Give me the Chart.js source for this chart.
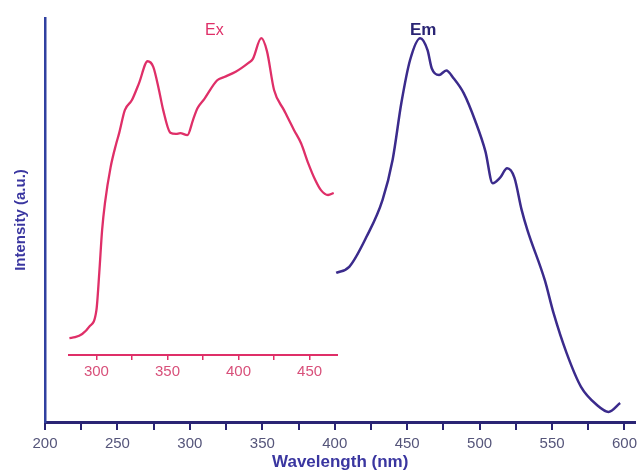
<!DOCTYPE html>
<html>
<head>
<meta charset="utf-8">
<title>Ex / Em spectra</title>
<script src="https://cdn.jsdelivr.net/npm/chart.js@4/dist/chart.umd.min.js"></script>
<style>
  body { margin: 0; background: #fff; }
  #wrap { position: relative; width: 642px; height: 474px; }
  #mainChart { position: absolute; left: 0; top: 0; }
  #insetChart { position: absolute; left: 68px; top: 0; }
</style>
</head>
<body>
<div id="wrap">
  <canvas id="mainChart" width="642" height="474"></canvas>
  <canvas id="insetChart" width="270" height="385"></canvas>
</div>
<script>
// --- Data ---
// Excitation spectrum, plotted against the inset axis (nm)
const exWavelength = [281, 285, 290, 295, 300, 302, 304, 306, 310, 314, 316, 320, 325, 330, 336, 340, 344, 347, 352, 356, 359, 364, 368, 371, 376, 385, 390, 398, 402, 407, 410, 416, 420, 425, 432, 439, 444, 449, 454, 458, 463, 467];
const exIntensity  = [20.8, 21.0, 21.8, 23.6, 27.7, 36.9, 47.5, 54.2, 63.1, 69.0, 71.5, 77.2, 79.7, 83.9, 89.3, 87.9, 82.2, 77.2, 71.6, 71.3, 71.5, 71.0, 74.8, 77.6, 80.0, 84.6, 85.4, 86.7, 87.6, 88.9, 89.8, 95.0, 91.8, 82.2, 77.2, 72.3, 69.0, 64.1, 59.9, 57.4, 56.2, 56.7];

// Emission spectrum, plotted against the main axis (nm)
const emWavelength = [401, 410, 422, 433, 440, 446, 452, 459, 464, 467, 472, 477, 482, 489, 497, 504, 509, 514, 519, 524, 529, 533, 545, 551, 560, 570, 581, 589, 597];
const emIntensity  = [36.9, 38.4, 45.9, 55.0, 65.0, 79.0, 89.6, 95.0, 92.1, 87.5, 85.9, 87.0, 85.1, 81.4, 74.5, 67.0, 59.1, 60.4, 62.8, 60.5, 52.5, 47.5, 35.1, 27.0, 17.1, 8.7, 4.2, 2.5, 4.7];

// Tick values
const mainTicks  = [200, 225, 250, 275, 300, 325, 350, 375, 400, 425, 450, 475, 500, 525, 550, 575, 600];
const insetTicks = [300, 325, 350, 375, 400, 425, 450];

const NAVY = '#2a2474';
const EM_COLOR = '#3b2b8c';
const EX_COLOR = '#df2f68';

const toPoints = (xs, ys) => xs.map((x, i) => ({ x, y: ys[i] }));

// Series labels ("Ex", "Em") drawn at data positions
const labelPlugin = (items) => ({
    id: 'seriesLabels',
    afterDatasetsDraw(chart) {
        const { ctx, scales } = chart;
        ctx.save();
        ctx.textAlign = 'center';
        ctx.textBaseline = 'middle';
        items.forEach(it => {
            ctx.font = it.font;
            ctx.fillStyle = it.color;
            ctx.fillText(it.text, scales.x.getPixelForValue(it.x), scales.y.getPixelForValue(it.y));
        });
        ctx.restore();
    }
});

// --- Main chart (emission + frame) ---
new Chart(document.getElementById('mainChart'), {
    type: 'line',
    data: {
        datasets: [{
            label: 'Em',
            data: toPoints(emWavelength, emIntensity),
            borderColor: EM_COLOR,
            borderWidth: 2.5,
            pointRadius: 0,
            cubicInterpolationMode: 'monotone',
            fill: false
        }]
    },
    options: {
        responsive: false,
        devicePixelRatio: 1,
        animation: false,
        layout: { padding: { top: 18, right: 0, left: 0, bottom: 0 } },
        plugins: { legend: { display: false }, tooltip: { enabled: false } },
        scales: {
            x: {
                type: 'linear',
                min: 200,
                max: 607.5,
                afterBuildTicks: (scale) => { scale.ticks = mainTicks.map(v => ({ value: v })); },
                afterFit: (scale) => { scale.height = 52; },
                border: { display: true, color: NAVY, width: 3 },
                grid: { drawOnChartArea: false, drawTicks: true, tickLength: 8, color: NAVY, lineWidth: 2 },
                ticks: {
                    autoSkip: false,
                    maxRotation: 0,
                    padding: 5,
                    color: '#55557a',
                    font: { family: 'Liberation Sans, Arial', size: 15 },
                    callback: (v) => (v % 50 === 0 ? v : '')
                },
                title: {
                    display: true,
                    text: 'Wavelength (nm)',
                    color: '#3a36a0',
                    font: { family: 'Liberation Sans, Arial', size: 17, weight: 'bold' },
                    padding: { top: 0, bottom: 1 }
                }
            },
            y: {
                type: 'linear',
                min: 0,
                max: 100,
                afterFit: (scale) => { scale.width = 45; },
                border: { display: true, color: '#3040a0', width: 2.5 },
                grid: { display: false },
                ticks: { display: false },
                title: {
                    display: true,
                    text: 'Intensity (a.u.)',
                    color: '#3a36a0',
                    font: { family: 'Liberation Sans, Arial', size: 15, weight: 'bold' },
                    padding: { top: 12, bottom: 0 }
                }
            }
        }
    },
    plugins: [labelPlugin([
        { text: 'Em', x: 461, y: 97, color: NAVY, font: 'bold 17px Liberation Sans, Arial' }
    ])]
});

// --- Inset chart (excitation, own wavelength axis) ---
new Chart(document.getElementById('insetChart'), {
    type: 'line',
    data: {
        datasets: [{
            label: 'Ex',
            data: toPoints(exWavelength, exIntensity),
            borderColor: EX_COLOR,
            borderWidth: 2.3,
            pointRadius: 0,
            cubicInterpolationMode: 'monotone',
            fill: false
        }]
    },
    options: {
        responsive: false,
        devicePixelRatio: 1,
        animation: false,
        layout: { padding: { top: 18, right: 0, left: 0, bottom: 0 } },
        plugins: { legend: { display: false }, tooltip: { enabled: false } },
        scales: {
            x: {
                type: 'linear',
                min: 280,
                max: 470,
                afterBuildTicks: (scale) => { scale.ticks = insetTicks.map(v => ({ value: v })); },
                afterFit: (scale) => { scale.height = 30; },
                border: { display: true, color: EX_COLOR, width: 2 },
                grid: { drawOnChartArea: false, drawTicks: true, tickLength: 5, color: EX_COLOR, lineWidth: 1.5 },
                ticks: {
                    autoSkip: false,
                    maxRotation: 0,
                    padding: 3,
                    color: '#d8507a',
                    font: { family: 'Liberation Sans, Arial', size: 15 },
                    callback: (v) => (v % 50 === 0 ? v : '')
                }
            },
            y: {
                type: 'linear',
                display: false,
                min: 16.6,
                max: 100
            }
        }
    },
    plugins: [labelPlugin([
        { text: 'Ex', x: 383, y: 97, color: EX_COLOR, font: '16px Liberation Sans, Arial' }
    ])]
});
</script>
</body>
</html>
